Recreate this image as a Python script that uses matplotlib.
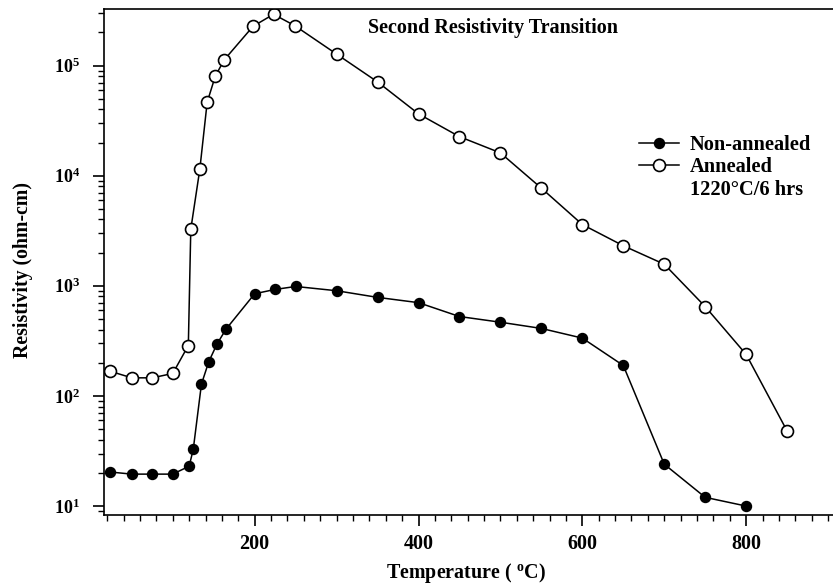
import numpy as np
import matplotlib
matplotlib.use("Agg")
from matplotlib import pyplot as plt
from matplotlib.ticker import FixedLocator, FixedFormatter, LogLocator, MultipleLocator, NullFormatter

plt.rcParams['font.family'] = ['Liberation Serif', 'DejaVu Serif']
plt.rcParams['font.weight'] = 'bold'
plt.rcParams['mathtext.fontset'] = 'custom'
plt.rcParams['mathtext.rm'] = 'Liberation Serif:bold'
plt.rcParams['mathtext.bf'] = 'Liberation Serif:bold'
plt.rcParams['mathtext.it'] = 'Liberation Serif:bold'

# Non-annealed (filled circles)
temp_non = [23, 50, 75, 100, 120, 125, 135, 144, 154, 165, 200, 225, 250,
            300, 350, 400, 450, 500, 550, 600, 650, 700, 750, 800]
res_non = [20.4, 19.5, 19.5, 19.5, 23, 32.7, 128, 205, 296, 404, 847, 927, 986,
           902, 785, 703, 526, 467, 410, 335, 189, 24, 12, 10]

# Annealed 1220C / 6 hrs (open circles)
temp_ann = [23, 50, 75, 100, 119, 122, 133, 142, 152, 163, 198, 223, 249,
            300, 350, 400, 450, 500, 550, 600, 650, 700, 750, 800, 850]
res_ann = [168, 146, 146, 160, 287, 3260, 11400, 46400, 80500, 113000, 227000,
           292000, 230000, 127000, 71000, 36400, 22600, 16100, 7700, 3600, 2310,
           1570, 647, 238, 48]

decades = [10, 100, 1000, 10000, 100000]
decade_labels = [r'$\mathbf{10^{%d}}$' % k for k in range(1, 6)]

fig = plt.figure(figsize=(8.33, 5.85), dpi=100)
ax = fig.add_axes([0.1248, 0.1197, 0.8752, 0.8649])

ax.plot(temp_non, res_non, '-o', color='black', lw=1.1, ms=7.2,
        mfc='black', mec='black', label='Non-annealed')
ax.plot(temp_ann, res_ann, '-o', color='black', lw=1.1, ms=8.6,
        mfc='white', mec='black', mew=1.2, label='Annealed')
# second line of the annealed legend label
ax.plot([], [], ' ', label='1220°C/6 hrs')

ax.set_yscale('log')
ax.set_xlim(16, 906)
ax.set_ylim(8.3, 3.26e5)

ax.yaxis.set_major_locator(FixedLocator(decades))
ax.yaxis.set_major_formatter(FixedFormatter(decade_labels))
ax.yaxis.set_minor_locator(LogLocator(base=10, subs=np.arange(2, 10)))
ax.yaxis.set_minor_formatter(NullFormatter())

ax.xaxis.set_major_locator(FixedLocator([200, 400, 600, 800]))
ax.xaxis.set_minor_locator(MultipleLocator(20))

ax.tick_params(axis='both', which='major', direction='out', length=8, width=1.2)
ax.tick_params(axis='both', which='minor', direction='out', length=4.5, width=1.0)
ax.tick_params(axis='x', which='major', labelsize=14.5, pad=6)
ax.tick_params(axis='y', which='major', labelsize=13, pad=9)

ax.spines['right'].set_visible(False)
for s in ['left', 'bottom', 'top']:
    ax.spines[s].set_linewidth(1.2)

ax.set_xlabel(r'Temperature ( $^{\mathregular{o}}$C)', fontsize=14.4, fontweight='bold')
ax.set_ylabel('Resistivity (ohm-cm)', fontsize=14.2, fontweight='bold')
ax.xaxis.set_label_coords(0.497, -0.09)
ax.yaxis.set_label_coords(-0.097, 0.484)

ax.text(0.534, 0.962, 'Second Resistivity Transition', transform=ax.transAxes,
        ha='center', va='center', fontsize=14.5, fontweight='bold')

leg = ax.legend(loc='upper left', bbox_to_anchor=(0.7345, 0.751), frameon=False,
                fontsize=14.7, handlelength=1.96, handletextpad=0.5,
                borderpad=0, borderaxespad=0, labelspacing=0.12)
for t in leg.get_texts():
    t.set_fontweight('bold')

fig.savefig('out.png', dpi=100)
